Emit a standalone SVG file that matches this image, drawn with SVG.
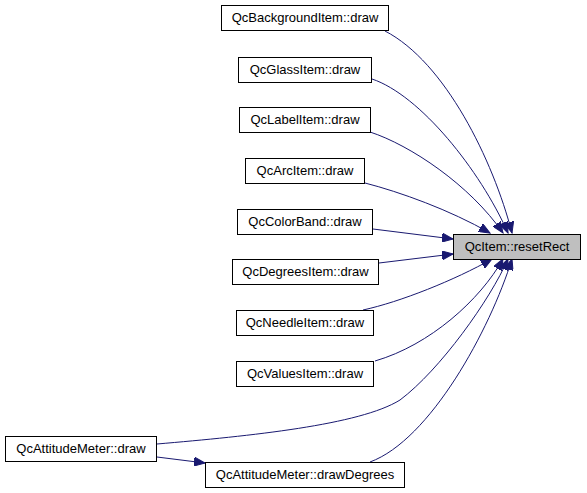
<svg xmlns="http://www.w3.org/2000/svg" width="587" height="493" viewBox="0 0 587 493">
<style>
.box{fill:#ffffff;stroke:#000000;stroke-width:1}
.hl{fill:#bfbfbf;stroke:#000000;stroke-width:1}
.lbl{font-family:"Liberation Sans",Arial,sans-serif;font-size:13px;fill:#000000;text-anchor:middle}
.edge{fill:none;stroke:#191970;stroke-width:1;marker-end:url(#ah)}
</style>
<defs>
<marker id="ah" markerUnits="userSpaceOnUse" markerWidth="12" markerHeight="9" refX="11" refY="4.5" orient="auto">
<path d="M0,0 L11,4.5 L0,9 z" fill="#191970" stroke="#191970" stroke-width="1"/>
</marker>
</defs>
<rect width="587" height="493" fill="#ffffff"/>
<g id="edges">
<path class="edge" d="M385,31 C445,62 493,160 512,233"/>
<path class="edge" d="M372,79 C420,95 480,170 508,233"/>
<path class="edge" d="M370,132 C410,145 470,185 503,233"/>
<path class="edge" d="M365,183 C400,192 450,210 490,233"/>
<path class="edge" d="M373,229 L453,239"/>
<path class="edge" d="M379,263 L453,254"/>
<path class="edge" d="M363,310 C400,302 455,280 492,259"/>
<path class="edge" d="M375,361 C430,345 480,300 503,259"/>
<path class="edge" d="M157,444 C250,436 360,425 400,400 C440,370 490,300 508,259"/>
<path class="edge" d="M370,462 C430,440 490,330 512,259"/>
<path class="edge" d="M157,457 L205,463"/>
</g>
<g id="n_background"><rect class="box" x="221.5" y="5.5" width="167" height="25"/><text class="lbl" x="305" y="22">QcBackgroundItem::draw</text></g>
<g id="n_glass"><rect class="box" x="238.5" y="57.5" width="133" height="25"/><text class="lbl" x="305" y="74">QcGlassItem::draw</text></g>
<g id="n_label"><rect class="box" x="239.5" y="107.5" width="131" height="25"/><text class="lbl" x="305" y="124">QcLabelItem::draw</text></g>
<g id="n_arc"><rect class="box" x="245.5" y="158.5" width="119" height="25"/><text class="lbl" x="305" y="175">QcArcItem::draw</text></g>
<g id="n_colorband"><rect class="box" x="237.5" y="209.5" width="135" height="25"/><text class="lbl" x="305" y="226">QcColorBand::draw</text></g>
<g id="n_degrees"><rect class="box" x="232.5" y="259.5" width="146" height="25"/><text class="lbl" x="305.5" y="276">QcDegreesItem::draw</text></g>
<g id="n_needle"><rect class="box" x="236.5" y="310.5" width="137" height="25"/><text class="lbl" x="305" y="327">QcNeedleItem::draw</text></g>
<g id="n_values"><rect class="box" x="236.5" y="361.5" width="137" height="25"/><text class="lbl" x="305" y="378">QcValuesItem::draw</text></g>
<g id="n_resetrect"><rect class="hl" x="453.5" y="234.5" width="127" height="25"/><text class="lbl" x="517" y="251">QcItem::resetRect</text></g>
<g id="n_attdraw"><rect class="box" x="5.5" y="436.5" width="151" height="25"/><text class="lbl" x="81" y="453">QcAttitudeMeter::draw</text></g>
<g id="n_attdeg"><rect class="box" x="205.5" y="462.5" width="199" height="25"/><text class="lbl" x="305" y="479">QcAttitudeMeter::drawDegrees</text></g>
</svg>
